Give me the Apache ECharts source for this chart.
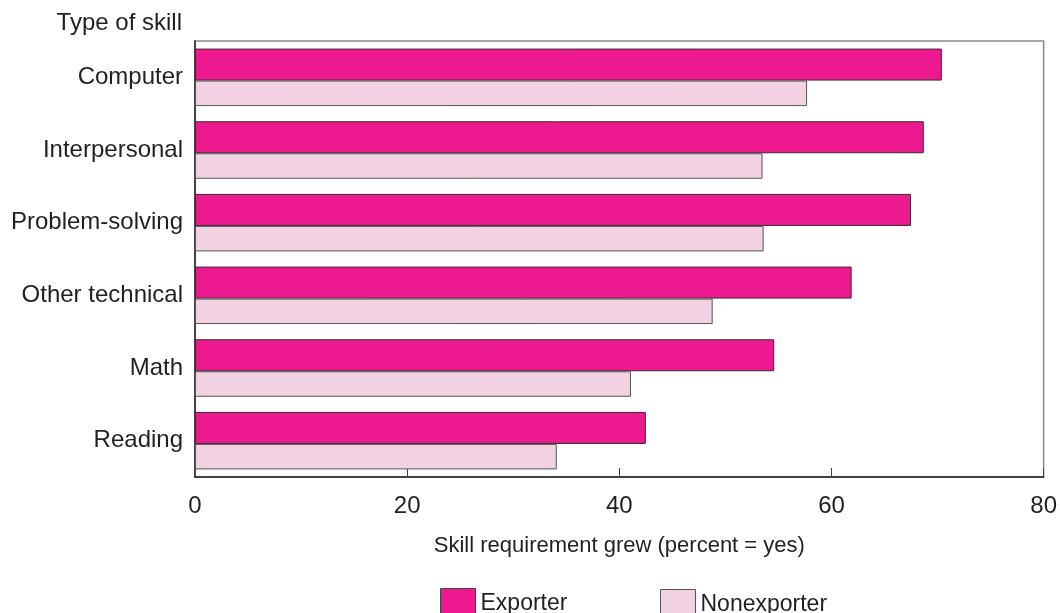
<!DOCTYPE html>
<html>
<head>
<meta charset="utf-8">
<script src="https://cdn.jsdelivr.net/npm/echarts@6/dist/echarts.min.js"></script>
<style>html,body{margin:0;padding:0;background:#fff}#c{width:1060px;height:613px}</style>
</head>
<body>
<div id="c"></div>
<script>
var categories = ['Computer', 'Interpersonal', 'Problem-solving', 'Other technical', 'Math', 'Reading'];
var exporter = [70.4, 68.7, 67.5, 61.9, 54.6, 42.5];
var nonexporter = [57.7, 53.5, 53.6, 48.8, 41.1, 34.1];
var xTicks = [0, 20, 40, 60, 80];

var FONT = '"Liberation Sans", Arial, Helvetica, sans-serif';
var TXT = '#231f20';
var FS = 24;
var chart = echarts.init(document.getElementById('c'));
chart.setOption({
  animation: false,
  textStyle: { fontFamily: FONT },
  grid: { left: 195, right: 16, top: 41, bottom: 136, show: true, borderColor: '#8a8a8a', borderWidth: 1.5, containLabel: false },
  graphic: [{
    type: 'text', x: 182, y: 23,
    style: { text: 'Type of skill', font: FS + 'px ' + FONT, fill: TXT, align: 'right', verticalAlign: 'middle' }
  }],
  legend: [{
    left: 435, top: 583, itemWidth: 35, itemHeight: 30, icon: 'rect',
    data: ['Exporter'],
    textStyle: { fontSize: 23, color: TXT, fontFamily: FONT },
    itemStyle: { borderColor: '#444', borderWidth: 1 }
  }, {
    left: 655, top: 584, itemWidth: 35, itemHeight: 30, icon: 'rect',
    data: ['Nonexporter'],
    textStyle: { fontSize: 23, color: TXT, fontFamily: FONT, padding: [3, 0, 0, 0] },
    itemStyle: { borderColor: '#555', borderWidth: 1 }
  }],
  xAxis: {
    type: 'value', min: xTicks[0], max: xTicks[xTicks.length - 1], interval: 20,
    name: 'Skill requirement grew (percent = yes)', nameLocation: 'middle', nameGap: 58,
    nameTextStyle: { fontSize: 22, color: TXT, fontFamily: FONT },
    axisLine: { show: true, lineStyle: { color: '#222', width: 1.5 } },
    axisTick: { show: true, inside: true, length: 9, lineStyle: { color: '#444', width: 1 } },
    axisLabel: { fontSize: FS, color: TXT, margin: 17, fontFamily: FONT },
    splitLine: { show: false }
  },
  yAxis: {
    type: 'category', data: categories, inverse: true,
    axisLine: { show: true, lineStyle: { color: '#222', width: 1.5 } },
    axisTick: { show: false },
    axisLabel: { fontSize: FS, color: TXT, margin: 12, fontFamily: FONT }
  },
  series: [{
    name: 'Exporter', type: 'bar', data: exporter, barWidth: 32, barGap: '0%',
    itemStyle: { color: '#ec1a8e', borderColor: '#3a2a30', borderWidth: 1 }
  }, {
    name: 'Nonexporter', type: 'bar', data: nonexporter, barWidth: 25.5, barGap: '0%',
    itemStyle: { color: '#f2d1e2', borderColor: '#555', borderWidth: 1 }
  }]
});
</script>
</body>
</html>
